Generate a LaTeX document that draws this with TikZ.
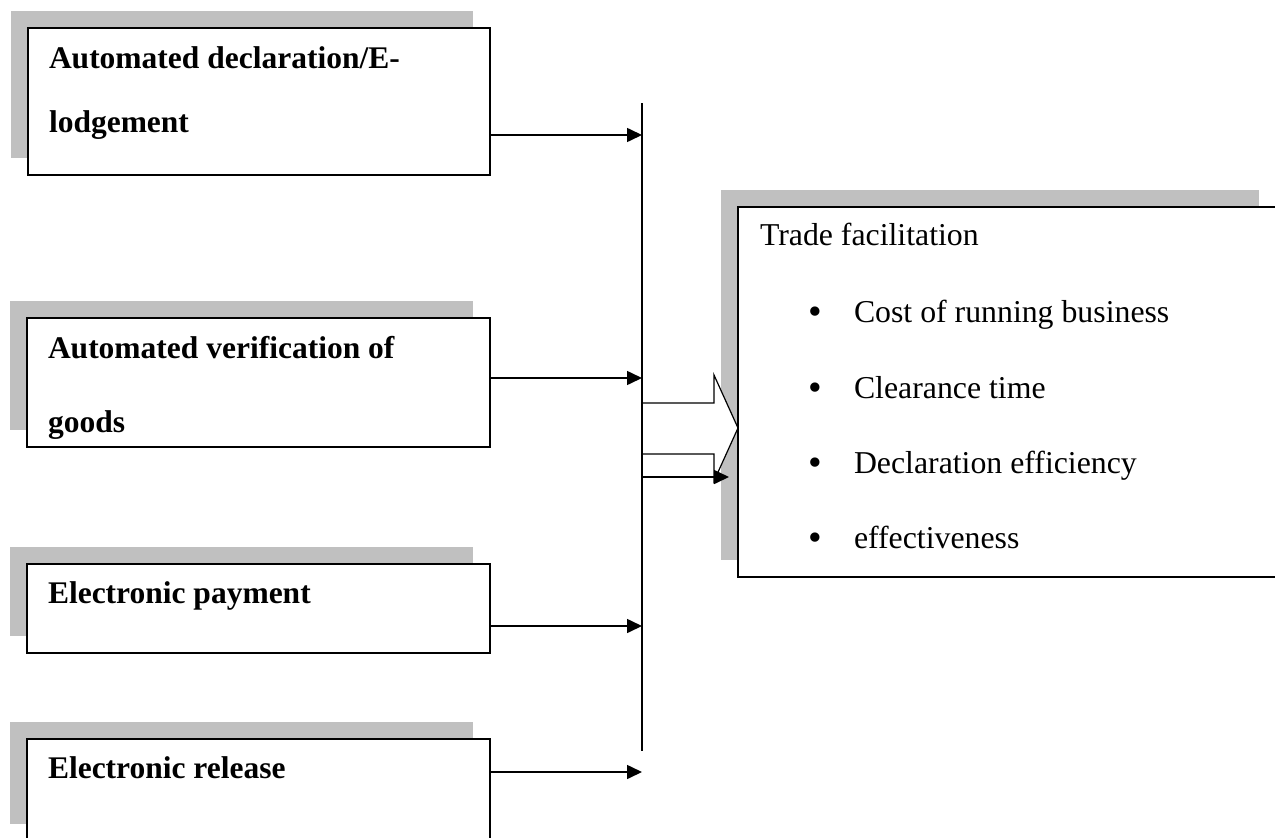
\documentclass[tikz,border=0pt]{standalone}
\usepackage{fontspec}
\setmainfont{Liberation Serif}
\usetikzlibrary{arrows.meta,shadows}
\definecolor{shadegray}{RGB}{192,192,192}
\tikzset{
  inbox/.style={draw=black, line width=1.7pt, fill=white, inner sep=0pt, outer sep=0pt,
    anchor=north west,
    general shadow={shadow xshift=-17pt, shadow yshift=17pt, fill=shadegray}},
  boldtxt/.style={font=\fontsize{31.5}{38}\selectfont\bfseries, inner sep=0pt, outer sep=0pt, anchor=base west},
  plaintxt/.style={font=\fontsize{31.8}{38}\selectfont, inner sep=0pt, outer sep=0pt, anchor=base west},
  bulletmark/.style={font=\fontsize{39}{44}\selectfont, inner sep=0pt, outer sep=0pt, anchor=base},
  conn/.style={draw=black, line width=1.6pt, -{Triangle[length=15pt,width=14pt]}},
  vline/.style={draw=black, line width=1.5pt},
  blockarrow/.style={draw=black, line width=1.2pt, fill=white, line join=miter}
}
\begin{document}
\begin{tikzpicture}[x=1pt,y=-1pt]
\useasboundingbox (0,0) rectangle (1275,838);

% left boxes
\node[inbox, minimum width=462pt, minimum height=147pt] (b1) at (28,28) {};
\node[inbox, minimum width=463pt, minimum height=129pt] (b2) at (27,318) {};
\node[inbox, minimum width=463pt, minimum height=89pt]  (b3) at (27,564) {};
\node[inbox, minimum width=463pt, minimum height=102pt] (b4) at (27,739) {};

% right box
\node[inbox, minimum width=538pt, minimum height=370pt] (rb) at (738,207) {};

% left texts
\node[boldtxt] (t1a) at (49,68)  {Automated declaration/E-};
\node[boldtxt] (t1b) at (49,132) {lodgement};
\node[boldtxt] (t2a) at (48,358) {Automated verification of};
\node[boldtxt] (t2b) at (48,432) {goods};
\node[boldtxt] (t3)  at (48,603) {Electronic payment};
\node[boldtxt] (t4)  at (48,778) {Electronic release};

% right texts
\node[plaintxt] (rt0) at (760,245) {Trade facilitation};
\node[bulletmark] (bu1) at (815,324) {•};
\node[bulletmark] (bu2) at (815,400) {•};
\node[bulletmark] (bu3) at (815,475) {•};
\node[bulletmark] (bu4) at (815,550) {•};
\node[plaintxt] (rt1) at (854,322) {Cost of running business};
\node[plaintxt] (rt2) at (854,398) {Clearance time};
\node[plaintxt] (rt3) at (854,473) {Declaration efficiency};
\node[plaintxt] (rt4) at (854,548) {effectiveness};

% block arrow into the right box
\draw[blockarrow] (642,403) -- (714,403) -- (714,375) -- (rb.west |- 0,428) -- (714,481) -- (714,454) -- (642,454);

% vertical collector line
\coordinate (vtop) at (642,103);
\coordinate (vbot) at (642,751);
\draw[vline] (vtop) -- (vbot);

% arrows from boxes to the line
\coordinate (e1) at (642,135);
\coordinate (e2) at (642,378);
\coordinate (e3) at (642,626);
\coordinate (e4) at (642,772);
\draw[conn] (b1.east |- e1) -- (e1);
\draw[conn] (b2.east |- e2) -- (e2);
\draw[conn] (b3.east |- e3) -- (e3);
\draw[conn] (b4.east |- e4) -- (e4);

% small arrow overlapping the block arrow
\coordinate (a5s) at (642,477);
\coordinate (a5e) at (729,477);
\draw[conn] (a5s) -- (a5e);
\end{tikzpicture}
\end{document}
